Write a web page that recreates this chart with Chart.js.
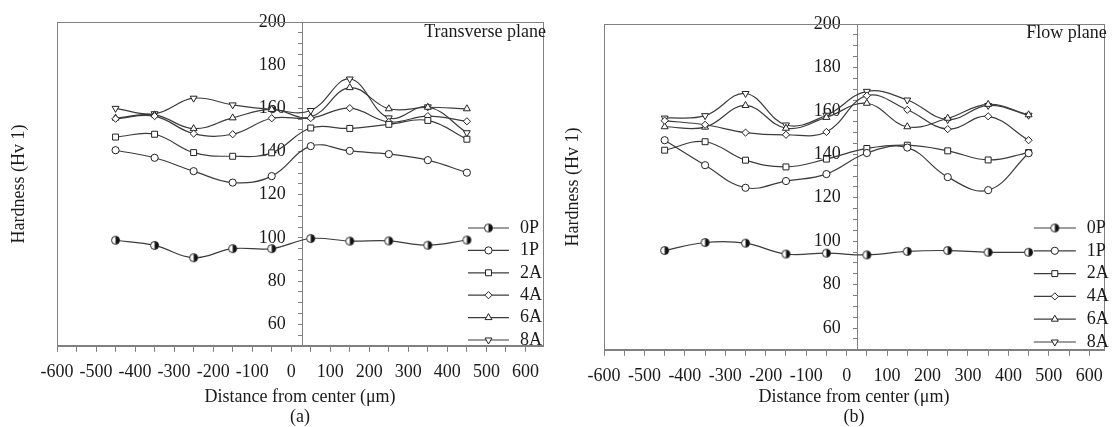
<!DOCTYPE html>
<html>
<head>
<meta charset="utf-8">
<script src="https://cdn.jsdelivr.net/npm/chart.js@4.4.1/dist/chart.umd.min.js"></script>
<style>
body { margin: 0; background: #fff; }
#wrap { display: flex; width: 1113px; height: 427px; }
canvas { display: block; }
</style>
</head>
<body>
<div id="wrap">
<canvas id="chart-a" width="555" height="427"></canvas>
<canvas id="chart-b" width="558" height="427"></canvas>
</div>
<script>
// measuring positions (µm from center)
const positions = [-450, -350, -250, -150, -50, 50, 150, 250, 350, 450]
const series_names = ['0P', '1P', '2A', '4A', '6A', '8A']

// (a) transverse plane
const transverse_0P = [98.9, 96.5, 90.8, 95.0, 95.0, 99.7, 98.5, 98.6, 96.6, 99.0]
const transverse_1P = [140.6, 137.1, 130.9, 125.6, 128.6, 142.5, 140.3, 138.8, 136.0, 130.2]
const transverse_2A = [146.7, 148.0, 139.5, 137.8, 139.4, 150.9, 150.7, 152.6, 154.4, 145.7]
const transverse_4A = [155.2, 156.4, 148.3, 148.0, 155.4, 155.5, 160.1, 153.7, 156.4, 154.0]
const transverse_6A = [155.5, 157.0, 150.6, 155.6, 159.5, 156.0, 169.6, 159.8, 160.5, 159.8]
const transverse_8A = [160.0, 157.5, 164.7, 161.6, 159.5, 159.0, 173.6, 155.6, 160.7, 148.7]

// (b) flow plane
const flow_0P = [95.7, 99.4, 99.1, 94.1, 94.5, 93.7, 95.3, 95.7, 94.9, 94.9]
const flow_1P = [146.5, 135.0, 124.6, 127.7, 130.9, 140.6, 143.1, 129.5, 123.5, 140.5]
const flow_2A = [141.9, 145.8, 137.3, 134.2, 137.8, 142.7, 144.2, 141.6, 137.4, 140.8]
const flow_4A = [155.5, 153.6, 150.0, 149.0, 150.3, 167.0, 160.5, 151.6, 157.5, 146.5]
const flow_6A = [152.7, 152.5, 162.5, 152.0, 157.0, 163.5, 152.7, 156.6, 163.0, 158.2]
const flow_8A = [156.7, 157.8, 168.0, 153.5, 158.0, 169.0, 165.0, 156.0, 162.5, 158.0]

// axis tick labels
const x_tick_labels = [-600, -500, -400, -300, -200, -100, 0, 100, 200, 300, 400, 500, 600]
const y_tick_labels = [60, 80, 100, 120, 140, 160, 180, 200]


Chart.defaults.font.family = "'Liberation Serif', 'DejaVu Serif', serif"
Chart.defaults.font.size = 18
Chart.defaults.color = '#1a1a1a'

const axis_color = '#808080'
const line_color = '#3c3c3c'


function half_circle() {
    let c = document.createElement('canvas')
    c.width = 11
    c.height = 11
    let g = c.getContext('2d')
    g.beginPath()
    g.arc(5.5, 5.5, 4, 0, Math.PI * 2)
    g.fillStyle = '#fff'
    g.fill()
    g.beginPath()
    g.arc(5.5, 5.5, 4, -Math.PI / 2, Math.PI / 2)
    g.closePath()
    g.fillStyle = '#111'
    g.fill()
    g.beginPath()
    g.arc(5.5, 5.5, 4, 0, Math.PI * 2)
    g.strokeStyle = '#222'
    g.lineWidth = 1
    g.stroke()
    return c
}

const point_styles = [half_circle(), 'circle', 'rect', 'rectRot', 'triangle', 'triangle']
const point_rot = [0, 0, 0, 0, 0, 180]
const point_radius = [4, 3.6, 4.2, 3.6, 4, 4]


function minor_ticks(from, to, step) {
    let result = []
    for (let v = from; v <= to; v += step) {
        result.push({ value: v })
    }
    return result
}


const frame_plugin = {
    id: 'frame',
    beforeDatasetsDraw(chart) {
        const a = chart.chartArea
        const ctx = chart.ctx
        ctx.save()
        ctx.strokeStyle = axis_color
        ctx.lineWidth = 1
        ctx.strokeRect(Math.round(a.left) + 0.5, Math.round(a.top) + 0.5,
            Math.round(a.right - a.left), Math.round(a.bottom - a.top))
        ctx.restore()
    },
    afterDraw(chart, args, opts) {
        const a = chart.chartArea
        const ctx = chart.ctx
        ctx.save()

        // plane name, top right
        ctx.font = "18px 'Liberation Serif', serif"
        ctx.fillStyle = '#1a1a1a'
        ctx.textAlign = 'right'
        ctx.textBaseline = 'middle'
        ctx.fillText(opts.plane, a.right + 3, a.top + opts.planeDy)

        // legend, bottom right
        chart.data.datasets.forEach((ds, i) => {
            let y = opts.legendTop + i * opts.legendStep
            ctx.strokeStyle = ds.borderColor
            ctx.lineWidth = 1.2
            ctx.beginPath()
            ctx.moveTo(a.right - opts.lineFrom, y)
            ctx.lineTo(a.right - opts.lineTo, y)
            ctx.stroke()

            ctx.fillStyle = '#fff'
            ctx.strokeStyle = '#222'
            ctx.lineWidth = 1
            Chart.helpers.drawPoint(ctx, {
                pointStyle: ds.pointStyle,
                rotation: ds.pointRotation,
                radius: ds.pointRadius,
                borderWidth: 1
            }, a.right - (opts.lineFrom + opts.lineTo) / 2, y)

            ctx.fillStyle = '#1a1a1a'
            ctx.textAlign = 'left'
            ctx.fillText(ds.label, a.right - opts.labelAt, y)
        })
        ctx.restore()
    }
}


function make_panel(id, series, p) {
    let datasets = series_names.map((name, i) => ({
        label: name,
        data: positions.map((x, j) => ({ x: x, y: series[i][j] })),
        xAxisID: 'x',
        yAxisID: 'y',
        borderColor: line_color,
        borderWidth: 1.2,
        tension: 0.4,
        pointStyle: point_styles[i],
        pointRotation: point_rot[i],
        pointRadius: point_radius[i],
        pointBackgroundColor: '#fff',
        pointBorderColor: '#222',
        pointBorderWidth: 1
    }))

    return new Chart(document.getElementById(id), {
        type: 'line',
        data: { datasets: datasets },
        options: {
            responsive: false,
            animation: false,
            devicePixelRatio: 1,
            layout: { padding: { top: p.top, right: p.right, left: 0, bottom: 0 } },
            plugins: {
                legend: { display: false },
                tooltip: { enabled: false },
                frame: p.frame
            },
            scales: {
                x: {
                    type: 'linear',
                    min: -600,
                    max: p.xmax,
                    afterBuildTicks: scale => { scale.ticks = minor_ticks(-600, 600, 50) },
                    ticks: {
                        autoSkip: false,
                        maxRotation: 0,
                        padding: 10,
                        callback: v => x_tick_labels.includes(v) ? String(v) : ''
                    },
                    grid: { drawOnChartArea: false, tickLength: 6, color: axis_color },
                    border: { color: axis_color },
                    title: {
                        display: true,
                        text: ['Distance from center (μm)', p.tag],
                        font: { size: 18, lineHeight: 1.1 },
                        padding: { top: p.xTitleTop, bottom: 0 }
                    }
                },
                y: {
                    type: 'linear',
                    min: 50,
                    max: 200,
                    position: { x: p.yAxisAt },
                    afterBuildTicks: scale => { scale.ticks = minor_ticks(50, 200, 5) },
                    ticks: {
                        autoSkip: false,
                        // the label sits right on the crossing axis, so pad it with spaces
                        callback: v => y_tick_labels.includes(v) ? String(v) + '   \u2006' : ''
                    },
                    grid: { drawOnChartArea: false, tickLength: 4, color: axis_color },
                    border: { color: axis_color }
                },
                ytitle: {
                    axis: 'y',
                    type: 'linear',
                    position: 'left',
                    grid: { display: false },
                    border: { display: false },
                    ticks: { display: false },
                    title: {
                        display: true,
                        text: 'Hardness (Hv 1)',
                        font: { size: 18 },
                        padding: { top: p.yTitleTop, bottom: p.yTitleBottom }
                    }
                }
            }
        },
        plugins: [frame_plugin]
    })
}


make_panel('chart-a',
    [transverse_0P, transverse_1P, transverse_2A, transverse_4A, transverse_6A, transverse_8A],
    {
        top: 22, right: 12, xmax: 645, yAxisAt: 28, tag: '(a)', xTitleTop: -6,
        yTitleTop: 8, yTitleBottom: 19.4,
        frame: { plane: 'Transverse plane', planeDy: 10, legendTop: 228, legendStep: 22.4,
                 lineFrom: 75, lineTo: 34, labelAt: 23 }
    })

make_panel('chart-b',
    [flow_0P, flow_1P, flow_2A, flow_4A, flow_6A, flow_8A],
    {
        top: 24, right: 8, xmax: 636, yAxisAt: 26, tag: '(b)', xTitleTop: -10,
        yTitleTop: 7.7, yTitleBottom: 11.7,
        frame: { plane: 'Flow plane', planeDy: 9, legendTop: 228, legendStep: 22.8,
                 lineFrom: 70, lineTo: 28, labelAt: 17 }
    })
</script>
</body>
</html>
